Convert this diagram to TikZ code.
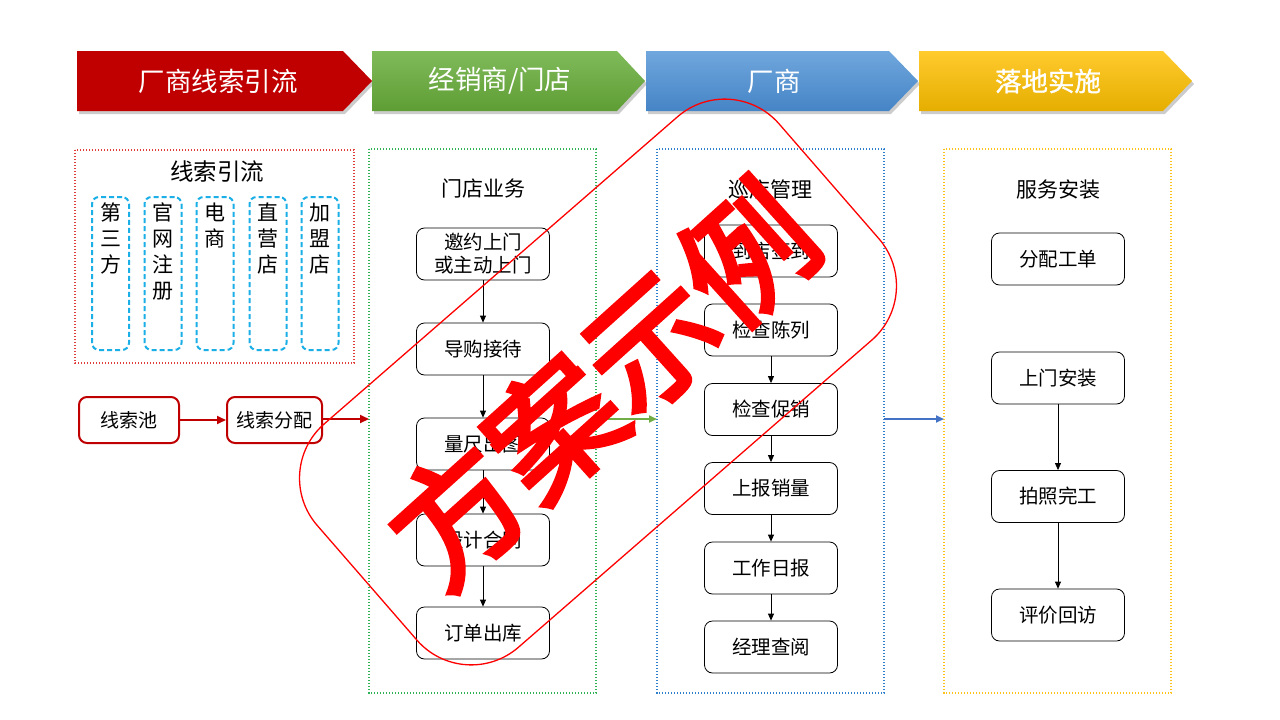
\documentclass[tikz,border=0pt]{standalone}
\usepackage{fontspec}
\setmainfont{Noto Sans CJK SC}
\newfontfamily\wmfont[FakeBold=3.5]{Noto Sans CJK SC}
\newfontfamily\chbold[FakeBold=1]{Noto Sans CJK SC}
\usetikzlibrary{arrows.meta}
\definecolor{cred}{HTML}{C00000}
\definecolor{gtop}{HTML}{80BB5A}
\definecolor{gbot}{HTML}{5E9D34}
\definecolor{btop}{HTML}{70A7DD}
\definecolor{bbot}{HTML}{4584C6}
\definecolor{ytop}{HTML}{FFCB2E}
\definecolor{ybot}{HTML}{E6AE00}
\definecolor{ccyan}{HTML}{1AAFE6}
\definecolor{dred}{HTML}{E03C3C}
\definecolor{dgreen}{HTML}{2DB356}
\definecolor{dblue}{HTML}{2C80CF}
\definecolor{dyellow}{HTML}{FFC21A}
\definecolor{agreen}{HTML}{70AD47}
\definecolor{ablue}{HTML}{4472C4}
\definecolor{wmred}{HTML}{FF0000}
\begin{document}
\begin{tikzpicture}[x=1pt,y=-1pt,
  chev/.style={text=white,font=\fontsize{26.5}{30}\selectfont,inner sep=0pt},
  shad/.style={fill=black,opacity=0.2},
  zone/.style={line width=1.4pt,dash pattern=on 1.4pt off 1.6pt},
  ztitle/.style={font=\fontsize{21}{24}\selectfont,inner sep=0pt},
  vbox/.style={draw=ccyan,line width=2pt,dash pattern=on 5pt off 3pt,rounded corners=7pt,minimum width=37pt,minimum height=153pt,inner sep=0pt},
  vtext/.style={font=\fontsize{21}{26}\selectfont,align=center,inner sep=0pt,anchor=north},
  box/.style={draw=black,line width=0.8pt,rounded corners=8pt,minimum width=133pt,minimum height=52pt,align=center,font=\fontsize{19.5}{23}\selectfont,inner sep=0pt},
  rbox/.style={draw=cred,line width=2pt,rounded corners=8pt,minimum height=46pt,font=\fontsize{19}{23}\selectfont,inner sep=0pt},
  flow/.style={draw=black,line width=0.8pt,-{Triangle[length=7pt,width=6pt]}},
  rflow/.style={draw=cred,line width=2pt,-{Triangle[length=9pt,width=8pt]}},
]
\useasboundingbox[fill=white] (0,0) rectangle (1280,720);

% ---- chevrons ----
\fill[shad] (79,54) -- (345,54) -- (374,84) -- (345,114) -- (79,114) -- cycle;
\fill[shad] (374,54) -- (619,54) -- (647,84) -- (619,114) -- (374,114) -- cycle;
\fill[shad] (648,54) -- (891,54) -- (920,84) -- (891,114) -- (648,114) -- cycle;
\fill[shad] (921,54) -- (1165,54) -- (1194,84) -- (1165,114) -- (921,114) -- cycle;
\fill[cred] (77,51) -- (343,51) -- (372,81) -- (343,111) -- (77,111) -- cycle;
\shade[top color=gtop,bottom color=gbot] (372,51) -- (617,51) -- (645,81) -- (617,111) -- (372,111) -- cycle;
\shade[top color=btop,bottom color=bbot] (646,51) -- (889,51) -- (918,81) -- (889,111) -- (646,111) -- cycle;
\shade[top color=ytop,bottom color=ybot] (919,51) -- (1163,51) -- (1192,81) -- (1163,111) -- (919,111) -- cycle;
\node[chev] (h1) at (218,81) {厂商线索引流};
\node[chev] (h2) at (500,81) {经销商/门店};
\node[chev] (h3) at (774,81) {厂商};
\node[chev,font=\fontsize{26.5}{30}\selectfont\chbold] (h4) at (1048,81) {落地实施};

% ---- lead zone ----
\draw[zone,draw=dred] (75,150) rectangle (354,363);
\node[font=\fontsize{23.5}{26}\selectfont,inner sep=0pt] (t0) at (217,172) {线索引流};
\node[vbox] (v1) at (110.5,273.5) {};
\node[vbox] (v2) at (163,273.5) {};
\node[vbox] (v3) at (215,273.5) {};
\node[vbox] (v4) at (268,273.5) {};
\node[vbox] (v5) at (320,273.5) {};
\node[vtext] (v1t) at (110.5,203) {第\\三\\方};
\node[vtext] (v2t) at (163,203) {官\\网\\注\\册};
\node[vtext] (v3t) at (215,203) {电\\商};
\node[vtext] (v4t) at (268,203) {直\\营\\店};
\node[vtext] (v5t) at (320,203) {加\\盟\\店};

\node[rbox,minimum width=100pt] (pool) at (129,420) {线索池};
\node[rbox,minimum width=95pt] (assign) at (274.5,420) {线索分配};

% ---- zones ----
\draw[zone,draw=dgreen] (369,149) rectangle (596,693);
\draw[zone,draw=dblue] (657,149) rectangle (884,693);
\draw[zone,draw=dyellow] (944,149) rectangle (1171,693);
\coordinate (gL) at (369,419);
\coordinate (gR) at (596,419);
\coordinate (bL) at (657,419);
\coordinate (bR) at (884,419);
\coordinate (yL) at (944,419);

\draw[rflow] (pool) -- (assign);
\draw[rflow] (assign.east |- gL) -- (gL);
\draw[draw=agreen,line width=2pt,-{Triangle[length=8pt,width=7pt]}] (gR) -- (bL);
\draw[draw=ablue,line width=2pt,-{Triangle[length=8pt,width=7pt]}] (bR) -- (yL);

% ---- store column ----
\node[ztitle] (t1) at (483,189) {门店业务};
\node[box] (s1) at (483,254) {邀约上门\\或主动上门};
\node[box] (s2) at (483,349) {导购接待};
\node[box] (s3) at (483,444) {量尺出图};
\node[box] (s4) at (483,540) {设计合同};
\node[box] (s5) at (483,633) {订单出库};
\draw[flow] (s1) -- (s2);
\draw[flow] (s2) -- (s3);
\draw[flow] (s3) -- (s4);
\draw[flow] (s4) -- (s5);

% ---- patrol column ----
\node[ztitle] (t2) at (770,189) {巡店管理};
\node[box] (p1) at (771,251) {到店签到};
\node[box] (p2) at (771,330) {检查陈列};
\node[box] (p3) at (771,409.5) {检查促销};
\node[box] (p4) at (771,488.5) {上报销量};
\node[box] (p5) at (771,568) {工作日报};
\node[box] (p6) at (771,647) {经理查阅};
\draw[flow] (p1) -- (p2);
\draw[flow] (p2) -- (p3);
\draw[flow] (p3) -- (p4);
\draw[flow] (p4) -- (p5);
\draw[flow] (p5) -- (p6);

% ---- install column ----
\node[ztitle] (t3) at (1058,190) {服务安装};
\node[box] (i1) at (1058,259) {分配工单};
\node[box] (i2) at (1058,378) {上门安装};
\node[box] (i3) at (1058,496.5) {拍照完工};
\node[box] (i4) at (1058,615) {评价回访};
\draw[flow] (i2) -- (i3);
\draw[flow] (i3) -- (i4);

% ---- watermark ----
\begin{scope}[shift={(598,382)},rotate=41]
\draw[wmred,line width=1.3pt,rounded corners=72pt] (-306,-148) rectangle (306,148);
\end{scope}
\node[text=wmred,rotate=42,inner sep=0pt,font=\fontsize{130}{130}\selectfont\wmfont] (wm) at (602,384) {方案示例};
\end{tikzpicture}
\end{document}
